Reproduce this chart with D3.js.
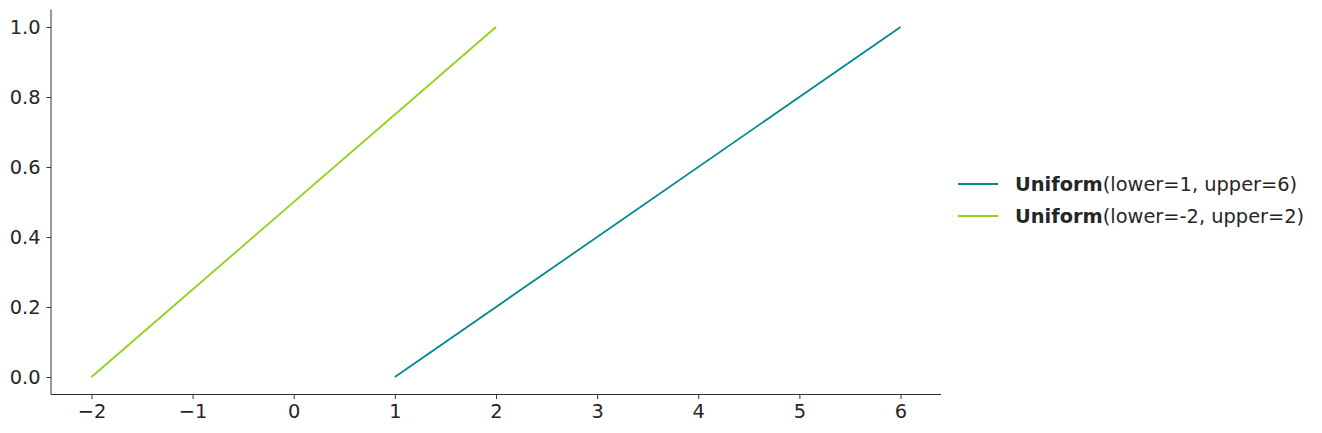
<!DOCTYPE html>
<html>
<head>
<meta charset="utf-8">
<script src="https://cdn.jsdelivr.net/npm/d3@7"></script>
<style>
  body { margin: 0; background: #fff; }
  text { font-family: "DejaVu Sans", sans-serif; fill: #262626; }
</style>
</head>
<body>
<div id="chart"></div>
<script>
// cdf of two uniform distributions
var seriesNames = ["Uniform", "Uniform"];
var seriesParams = ["(lower=1, upper=6)", "(lower=-2, upper=2)"];
var seriesColors = ["#008a8f", "#8cd317"];
var seriesX = [[1, 6], [-2, 2]];
var seriesY = [[0, 1], [0, 1]];
var xTicks = [-2, -1, 0, 1, 2, 3, 4, 5, 6];
var yTicks = [0, 0.2, 0.4, 0.6, 0.8, 1.0];

function main(){
    var canvasWidth = 1322;
    var canvasHeight = 433;
    var left = 51, right = 941, top = 9.5, bottom = 394.5;
    var fontSize = "19.4px";

    var svg = d3.select("#chart").append("svg")
        .attr("width", canvasWidth)
        .attr("height", canvasHeight);

    var xScale = d3.scaleLinear().domain([-2.4, 6.4]).range([left, right]);
    var yScale = d3.scaleLinear().domain([-0.05, 1.05]).range([bottom, top]);

    // x axis
    var gx = svg.append("g")
        .attr("transform", "translate(0," + bottom + ")")
        .call(d3.axisBottom(xScale).tickValues(xTicks).tickSize(4.5).tickPadding(5.5)
            .tickFormat(function(d){ return d < 0 ? "\u2212" + Math.abs(d) : d; }));
    gx.selectAll("text").attr("font-size", fontSize).style("font-family", "DejaVu Sans");

    // y axis
    var gy = svg.append("g")
        .attr("transform", "translate(" + left + ",0)")
        .call(d3.axisLeft(yScale).tickValues(yTicks).tickSize(4.5).tickPadding(6)
            .tickFormat(d3.format(".1f")));
    gy.selectAll("text").attr("font-size", fontSize).style("font-family", "DejaVu Sans");

    [gx, gy].forEach(function(g){
        g.select(".domain").attr("stroke", "#333").attr("stroke-width", 1);
        g.selectAll(".tick line").attr("stroke", "#333");
        g.selectAll(".tick text").attr("fill", "#262626");
    });
    gx.select(".domain").attr("d", "M" + left + ",0H" + right);
    gy.select(".domain").attr("d", "M0," + top + "V" + bottom);

    // lines
    var line = d3.line()
        .x(function(d){ return xScale(d[0]); })
        .y(function(d){ return yScale(d[1]); });

    seriesX.forEach(function(xs, i){
        var pts = xs.map(function(x, j){ return [x, seriesY[i][j]]; });
        svg.append("path")
            .datum(pts)
            .attr("d", line)
            .attr("fill", "none")
            .attr("stroke", seriesColors[i])
            .attr("stroke-width", 1.8);
    });

    // legend
    var legend = svg.append("g").attr("transform", "translate(958,184)");
    seriesNames.forEach(function(name, i){
        var row = legend.append("g").attr("transform", "translate(0," + (i * 32) + ")");
        row.append("line")
            .attr("x1", 0).attr("x2", 40)
            .attr("stroke", seriesColors[i])
            .attr("stroke-width", 1.8);
        var t = row.append("text")
            .attr("x", 57).attr("y", 7)
            .attr("font-size", fontSize);
        t.append("tspan").attr("font-weight", "bold").text(name);
        t.append("tspan").text(seriesParams[i]);
    });
}

main()
</script>
</body>
</html>
